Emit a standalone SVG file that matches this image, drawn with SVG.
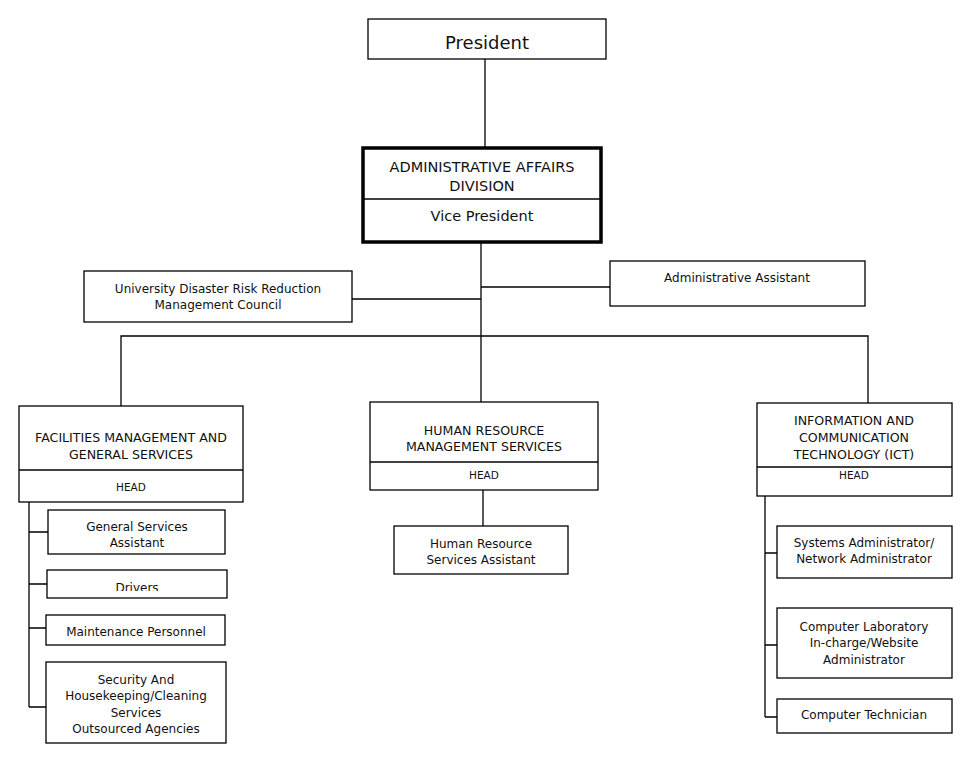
<svg xmlns="http://www.w3.org/2000/svg" width="976" height="758" viewBox="0 0 976 758">
<style>
.box{fill:#fff;stroke:#000;stroke-width:1.3}
.thick{fill:#fff;stroke:#000;stroke-width:3.5}
.ln{fill:none;stroke:#000;stroke-width:1.3}
text{font-family:"DejaVu Sans","Verdana",sans-serif;fill:#111;text-anchor:middle}
.t{font-size:12px}
.c{font-size:12.6px}
.h{font-size:14.5px}
.s{font-size:10.5px}
</style>
<defs>
<clipPath id="clipDrivers"><rect x="47" y="570" width="180" height="21"/></clipPath>
</defs>
<g id="connectors">
<path class="ln" d="M485,59V148"/>
<path class="ln" d="M481,243V402"/>
<path class="ln" d="M352,299H481"/>
<path class="ln" d="M481,287H610"/>
<path class="ln" d="M121,406V336H868V403"/>
<path class="ln" d="M483,490V526"/>
<path class="ln" d="M29,502V707M29,532H48M29,584H47M29,628H46M29,707H46"/>
<path class="ln" d="M765,496V717M765,553H777M765,645H777M765,717H777"/>
</g>
<g id="president">
<rect class="box" x="368" y="19" width="238" height="40"/>
<text x="487" y="49" style="font-size:18px">President</text>
</g>
<g id="admin-affairs">
<rect class="thick" x="363" y="148" width="238" height="94"/>
<line class="ln" x1="363" y1="199" x2="601" y2="199"/>
<text class="h" x="482" y="172">ADMINISTRATIVE AFFAIRS</text>
<text class="h" x="482" y="191">DIVISION</text>
<text class="h" x="482" y="221">Vice President</text>
</g>
<g id="udrrmc">
<rect class="box" x="84" y="271" width="268" height="51"/>
<text class="t" x="218" y="293">University Disaster Risk Reduction</text>
<text class="t" x="218" y="309">Management Council</text>
</g>
<g id="admin-assistant">
<rect class="box" x="610" y="261" width="255" height="45"/>
<text class="t" x="737" y="282">Administrative Assistant</text>
</g>
<g id="facilities">
<rect class="box" x="19" y="406" width="224" height="96"/>
<line class="ln" x1="19" y1="470" x2="243" y2="470"/>
<text class="c" x="131" y="442">FACILITIES MANAGEMENT AND</text>
<text class="c" x="131" y="459">GENERAL SERVICES</text>
<text class="s" x="131" y="491">HEAD</text>
</g>
<g id="hr">
<rect class="box" x="370" y="402" width="228" height="88"/>
<line class="ln" x1="370" y1="462" x2="598" y2="462"/>
<text class="c" x="484" y="435">HUMAN RESOURCE</text>
<text class="c" x="484" y="451">MANAGEMENT SERVICES</text>
<text class="s" x="484" y="479">HEAD</text>
</g>
<g id="ict">
<rect class="box" x="757" y="403" width="195" height="93"/>
<line class="ln" x1="757" y1="467" x2="952" y2="467"/>
<text class="c" x="854" y="425">INFORMATION AND</text>
<text class="c" x="854" y="442">COMMUNICATION</text>
<text class="c" x="854" y="459">TECHNOLOGY (ICT)</text>
<text class="s" x="854" y="479">HEAD</text>
</g>
<g id="hr-assistant">
<rect class="box" x="394" y="526" width="174" height="48"/>
<text class="t" x="481" y="548">Human Resource</text>
<text class="t" x="481" y="564">Services Assistant</text>
</g>
<g id="general-services-assistant">
<rect class="box" x="48" y="510" width="177" height="44"/>
<text class="t" x="137" y="531">General Services</text>
<text class="t" x="137" y="547">Assistant</text>
</g>
<g id="drivers">
<rect class="box" x="47" y="570" width="180" height="28"/>
<text class="t" x="137" y="592" clip-path="url(#clipDrivers)">Drivers</text>
</g>
<g id="maintenance">
<rect class="box" x="46" y="615" width="179" height="30"/>
<text class="t" x="136" y="636">Maintenance Personnel</text>
</g>
<g id="security">
<rect class="box" x="46" y="662" width="180" height="81"/>
<text class="t" x="136" y="684">Security And</text>
<text class="t" x="136" y="700">Housekeeping/Cleaning</text>
<text class="t" x="136" y="717">Services</text>
<text class="t" x="136" y="733">Outsourced Agencies</text>
</g>
<g id="systems-admin">
<rect class="box" x="777" y="526" width="175" height="52"/>
<text class="t" x="864" y="547">Systems Administrator/</text>
<text class="t" x="864" y="563">Network Administrator</text>
</g>
<g id="computer-lab">
<rect class="box" x="777" y="608" width="175" height="70"/>
<text class="t" x="864" y="631">Computer Laboratory</text>
<text class="t" x="864" y="647">In-charge/Website</text>
<text class="t" x="864" y="664">Administrator</text>
</g>
<g id="computer-technician">
<rect class="box" x="777" y="699" width="175" height="34"/>
<text class="t" x="864" y="719">Computer Technician</text>
</g>
</svg>
